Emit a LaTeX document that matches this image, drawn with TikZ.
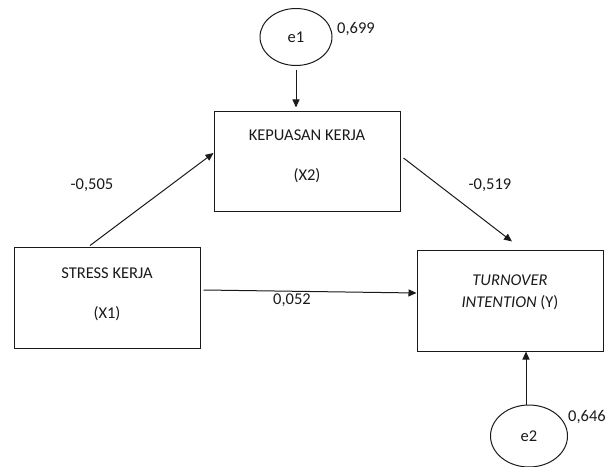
\documentclass[tikz,border=0pt]{standalone}
\usepackage{fontspec}
\setmainfont{Carlito}
\usetikzlibrary{arrows.meta,positioning,shapes.geometric}
\definecolor{ink}{HTML}{1A1A1A}

\begin{document}
\begin{tikzpicture}[x=1pt,y=1pt]
  \tikzstyle{var}=[rectangle,draw=ink,line width=1pt,minimum width=186pt,minimum height=100pt,inner sep=0pt]
  \tikzstyle{err}=[ellipse,draw=ink,line width=1pt,minimum width=72pt,minimum height=57pt,inner sep=0pt,font=\fontsize{16.5}{19.5}\selectfont,text=ink]
  \tikzstyle{txt}=[align=center,inner sep=0pt,font=\fontsize{16.5}{19.5}\selectfont,text=ink]
  \tikzstyle{coef}=[inner sep=0pt,font=\fontsize{16.5}{19.5}\selectfont,text=ink]
  \tikzstyle{arr}=[-{Triangle[length=8pt,width=7pt]},draw=ink,line width=1pt]
  \useasboundingbox (0,0) rectangle (612,466);
  \node[var] (x2) at (307,304) {};
  \node[var] (x1) at (107,168) {};
  \node[var] (y) at (510,165) {};
  \node[err] (e1) at (296,429) {e1};
  \node[err,minimum width=77pt,minimum height=62pt] (e2) at (529,30) {e2};
  \node[txt,below=18pt of x2.north] (x2t) {KEPUASAN KERJA\\[20.5pt](X2)};
  \node[txt,below=20pt of x1.north] (x1t) {STRESS KERJA\\[20.5pt](X1)};
  \node[txt,below=24pt of y.north] (yt) {\textit{TURNOVER}\\[2.5pt]\textit{INTENTION} (Y)};
  \node[coef,anchor=west] (c1) at (337,437) {0,699};
  \node[coef,anchor=west] (c2) at (568,49) {0,646};
  \node[coef] (p1) at (92,281) {-0,505};
  \node[coef] (p2) at (490,281) {-0,519};
  \node[coef] (p3) at (292,166) {0,052};
  \draw[arr,shorten <=4pt,shorten >=4pt] (e1.south) -- (e1.south |- x2.north);
  \draw[arr] ([xshift=-17pt,yshift=2pt]x1.north) -- ([yshift=9pt]x2.west);
  \draw[arr] ([xshift=3pt,yshift=4pt]x2.east) -- ([xshift=2pt,yshift=9pt]y.north);
  \draw[arr] ([xshift=3pt,yshift=8pt]x1.east) -- ([yshift=8pt]y.west);
  \draw[arr] ([xshift=-3pt]e2.north) -- ([xshift=-3pt]e2.north |- y.south);
\end{tikzpicture}
\end{document}
